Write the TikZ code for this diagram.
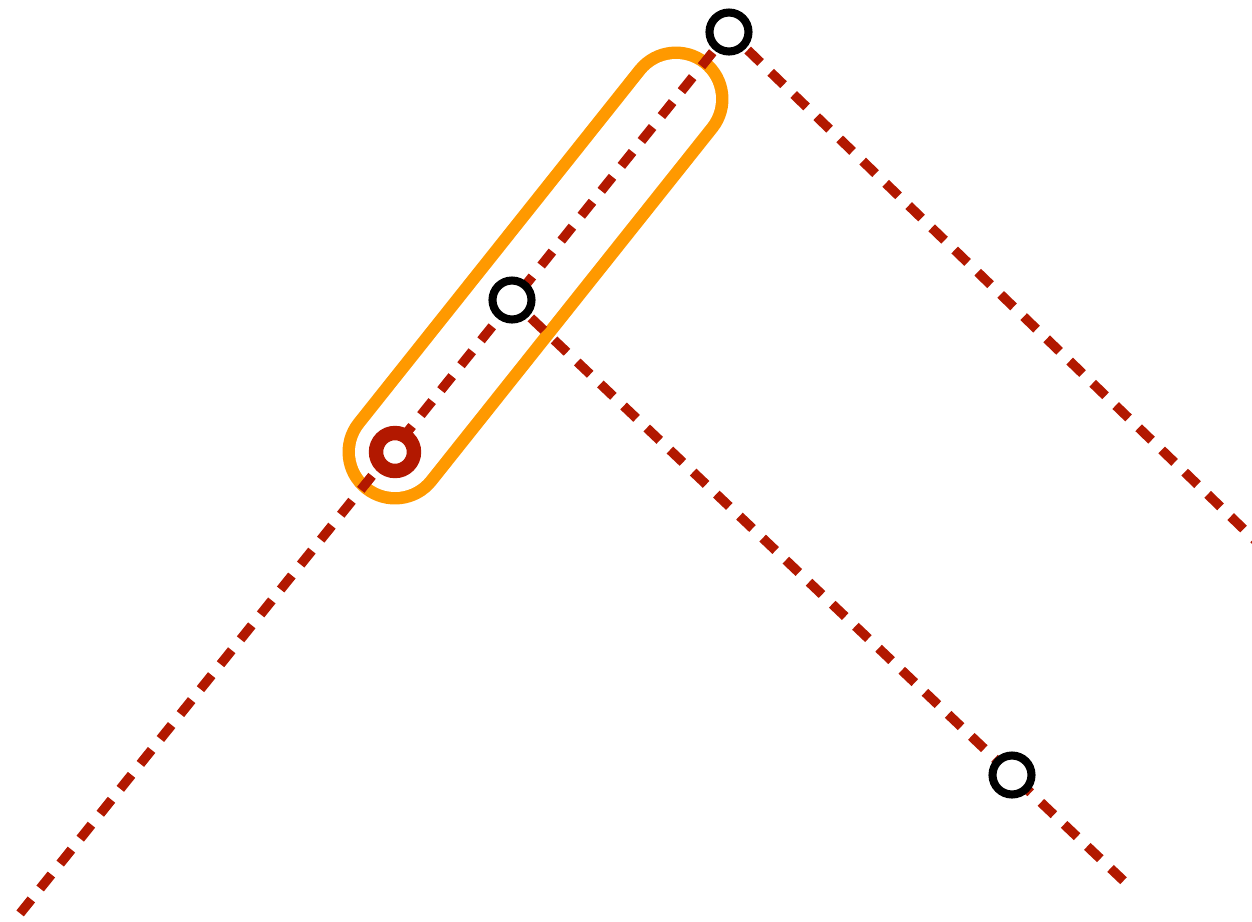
\documentclass[tikz,border=0pt]{standalone}
\definecolor{dred}{RGB}{178,24,0}
\definecolor{orng}{RGB}{255,153,0}
\pgfdeclarelayer{background}
\pgfsetlayers{background,main}
\begin{document}
\begin{tikzpicture}[x=0.02cm,y=-0.02cm,
  ring/.style={circle,draw=black,fill=white,line width=4.6pt,minimum size=0.78cm,inner sep=0pt},
  redring/.style={circle,draw=dred,fill=white,line width=8.2pt,minimum size=0.76cm,inner sep=0pt},
  dline/.style={draw=dred,line width=5.4pt,dash pattern=on 10.2pt off 8.0pt,dash phase=3.41pt},
  capsule/.style={line width=2.1cm,draw=orng,line cap=round},
  capsuleinner/.style={line width=1.6cm,draw=white,line cap=round}]
\useasboundingbox (0,0) rectangle (1252,921);
% positions
\coordinate (A) at (395,452);
\coordinate (B) at (676,99);
\coordinate (ll) at (14,921);
\coordinate (rr) at (1258,543);
\coordinate (mb) at (1127,884);
% nodes
\node[ring] (t) at (729,32) {};
\node[ring] (m) at (512,300) {};
\node[ring] (b) at (1012,775) {};
\node[redring] (r) at (A) {};
\begin{pgfonlayer}{background}
% capsule
\draw[capsule] (A) -- (B);
\draw[capsuleinner] (A) -- (B);
% dashed connectors
\path[dline] (t.center) -- (ll);
\path[dline] (t.center) -- (rr);
\path[dline] (m.center) -- (b.center) -- (mb);
\end{pgfonlayer}
\end{tikzpicture}
\end{document}
